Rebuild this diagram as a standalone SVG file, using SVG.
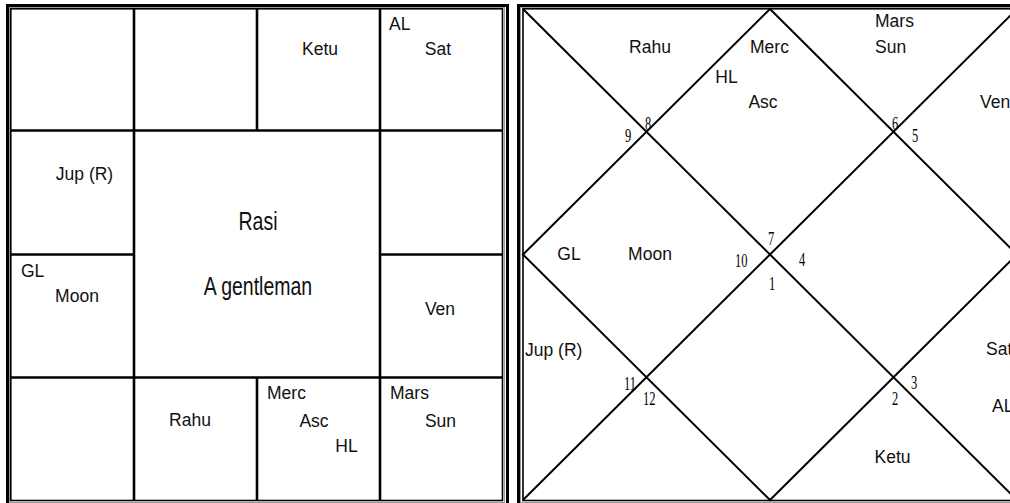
<svg xmlns="http://www.w3.org/2000/svg" width="1010" height="503" viewBox="0 0 1010 503">
<style>
.bg{fill:#fff}
.outer{fill:none;stroke:#000;stroke-width:3}
.gap{fill:none;stroke:#999;stroke-width:1}
.inner{fill:none;stroke:#000;stroke-width:1.6}
.grid{stroke:#000;stroke-width:2.6;fill:none}
.diag{stroke:#000;stroke-width:2;fill:none}
.t{font-family:"Liberation Sans",Arial,sans-serif;font-size:17.5px;fill:#111}
.m{text-anchor:middle}
.c{font-family:"Liberation Sans",Arial,sans-serif;font-size:19.5px;fill:#111;text-anchor:middle}
.n{font-family:"Liberation Serif","Times New Roman",serif;font-size:12.5px;fill:#000}
</style>
<rect class="bg" x="0" y="0" width="1010" height="503"/>

<g id="left-chart">
  <g id="left-frame">
    <rect class="outer" x="7.5" y="5.5" width="500" height="499"/>
    <rect class="gap" x="9.5" y="7.5" width="495" height="495"/>
    <rect class="inner" x="10.8" y="8.8" width="491.7" height="491.7"/>
  </g>
  <g id="left-grid">
    <line class="grid" x1="11" y1="130.5" x2="502" y2="130.5"/>
    <line class="grid" x1="11" y1="377.5" x2="502" y2="377.5"/>
    <line class="grid" x1="134" y1="9" x2="134" y2="500"/>
    <line class="grid" x1="380" y1="9" x2="380" y2="500"/>
    <line class="grid" x1="257" y1="9" x2="257" y2="130.5"/>
    <line class="grid" x1="257" y1="377.5" x2="257" y2="500"/>
    <line class="grid" x1="11" y1="254.5" x2="134" y2="254.5"/>
    <line class="grid" x1="380" y1="254.5" x2="502" y2="254.5"/>
  </g>
  <g id="l-house-ketu"><text class="t m" x="320" y="55">Ketu</text></g>
  <g id="l-house-sat">
    <text class="t" x="389" y="30">AL</text>
    <text class="t m" x="438" y="55">Sat</text>
  </g>
  <g id="l-house-jup"><text class="t m" x="84.5" y="180">Jup (R)</text></g>
  <g id="l-house-moon">
    <text class="t" x="21" y="277">GL</text>
    <text class="t m" x="77" y="302">Moon</text>
  </g>
  <g id="l-house-ven"><text class="t m" x="440" y="315">Ven</text></g>
  <g id="l-house-rahu"><text class="t m" x="190" y="426">Rahu</text></g>
  <g id="l-house-merc">
    <text class="t" x="267" y="399">Merc</text>
    <text class="t m" x="314" y="427">Asc</text>
    <text class="t m" x="346.5" y="452">HL</text>
  </g>
  <g id="l-house-mars">
    <text class="t" x="390" y="399">Mars</text>
    <text class="t m" x="440.5" y="427">Sun</text>
  </g>
  <g id="l-center">
    <text class="c" transform="translate(258,230) scale(1,1.3)">Rasi</text>
    <text class="c" transform="translate(258,295) scale(1,1.3)">A gentleman</text>
  </g>
</g>

<g id="right-chart">
  <g id="right-frame">
    <rect class="outer" x="518.5" y="5.5" width="510" height="499"/>
    <rect class="gap" x="520.5" y="7.5" width="505" height="495"/>
    <rect class="inner" x="523" y="8.8" width="494" height="491.7"/>
  </g>
  <g id="connectors">
    <line class="diag" x1="523" y1="9" x2="1017" y2="500"/>
    <line class="diag" x1="523" y1="500" x2="1017" y2="9"/>
    <polygon class="diag" points="770,9 1017,254.5 770,500 523,254.5"/>
  </g>
  <g id="numbers">
    <text class="n" transform="translate(625,142) scale(1,1.55)">9</text>
    <text class="n" transform="translate(645,130) scale(1,1.55)">8</text>
    <text class="n" transform="translate(892,130) scale(1,1.55)">6</text>
    <text class="n" transform="translate(912,142) scale(1,1.55)">5</text>
    <text class="n" transform="translate(768,245) scale(1,1.55)">7</text>
    <text class="n" transform="translate(735,267) scale(1,1.55)">10</text>
    <text class="n" transform="translate(799,266) scale(1,1.55)">4</text>
    <text class="n" transform="translate(769,290) scale(1,1.55)">1</text>
    <text class="n" transform="translate(624,390) scale(1,1.55)">11</text>
    <text class="n" transform="translate(643,405) scale(1,1.55)">12</text>
    <text class="n" transform="translate(911,389) scale(1,1.55)">3</text>
    <text class="n" transform="translate(892,405) scale(1,1.55)">2</text>
  </g>
  <g id="r-house-rahu"><text class="t m" x="650" y="53">Rahu</text></g>
  <g id="r-house-merc">
    <text class="t" x="750" y="53">Merc</text>
    <text class="t m" x="726.5" y="83">HL</text>
    <text class="t m" x="763" y="108">Asc</text>
  </g>
  <g id="r-house-mars">
    <text class="t" x="875" y="27">Mars</text>
    <text class="t" x="875" y="53">Sun</text>
  </g>
  <g id="r-house-ven"><text class="t" x="980" y="108">Ven</text></g>
  <g id="r-house-moon">
    <text class="t m" x="569" y="260">GL</text>
    <text class="t m" x="650" y="260">Moon</text>
  </g>
  <g id="r-house-jup"><text class="t" x="525" y="356">Jup (R)</text></g>
  <g id="r-house-sat">
    <text class="t" x="986" y="355">Sat</text>
    <text class="t" x="992" y="412">AL</text>
  </g>
  <g id="r-house-ketu"><text class="t m" x="892.5" y="463">Ketu</text></g>
</g>
</svg>
